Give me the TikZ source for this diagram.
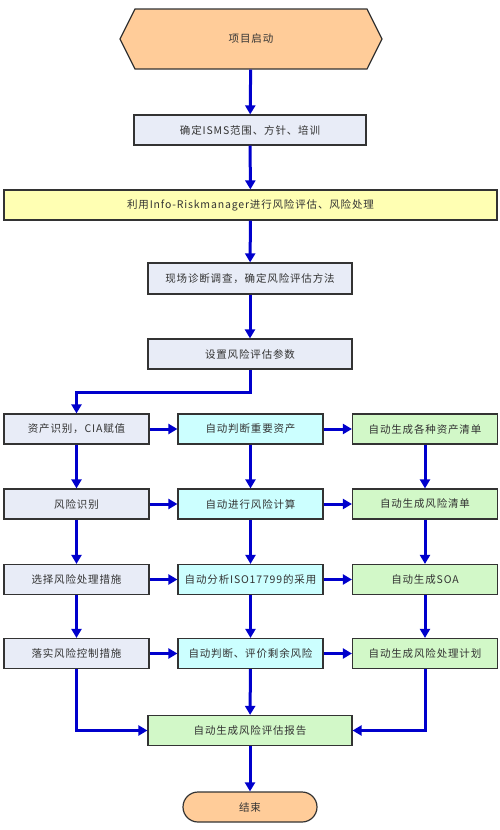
\documentclass[tikz,border=0pt]{standalone}
\usepackage{fontspec}
\setmainfont[LetterSpace=8]{Noto Sans CJK SC}
\usetikzlibrary{arrows.meta}
\usetikzlibrary{shapes.symbols}

\definecolor{orangefill}{HTML}{FFCC99}
\definecolor{greyfill}{HTML}{E8ECF7}
\definecolor{yellowfill}{HTML}{FFFFB3}
\definecolor{cyanfill}{HTML}{CCFFFF}
\definecolor{greenfill}{HTML}{D2F8C8}
\definecolor{flowblue}{HTML}{0000CC}
\definecolor{textgrey}{HTML}{333333}

\tikzset{
box/.style={draw=textgrey,line width=1.2pt,minimum height=30pt,minimum width=145pt,
  inner sep=0pt,font=\fontsize{10.5}{12}\selectfont,text=textgrey},
greybox/.style={box,fill=greyfill},
cyanbox/.style={box,fill=cyanfill},
greenbox/.style={box,fill=greenfill},
flow/.style={draw=flowblue,line width=3pt,-{Triangle[length=9pt,width=10pt]}}
}

\begin{document}
\begin{tikzpicture}[x=1pt,y=-1pt]
\useasboundingbox (0,0) rectangle (500,830);
% top part
\node[box,signal,signal to=west and east,signal pointer angle=127,fill=orangefill,
  minimum width=262pt,minimum height=60pt] (start) at (251,39) {项目启动};
\node[greybox,minimum width=232pt] (scope) at (250,130) {确定ISMS范围、方针、培训};
\node[box,fill=yellowfill,minimum width=493pt] (tool) at (250.5,205) {利用Info-Riskmanager进行风险评估、风险处理};
\node[greybox,minimum width=204pt,minimum height=31pt] (survey) at (250,278.5) {现场诊断调查，确定风险评估方法};
\node[greybox,minimum width=204pt] (param) at (250,354) {设置风险评估参数};
% three columns
\node[greybox] (a1) at (76.5,429) {资产识别，CIA赋值};
\node[cyanbox] (b1) at (250.5,429) {自动判断重要资产};
\node[greenbox] (c1) at (425,429) {自动生成各种资产清单};
\node[greybox] (a2) at (76.5,504) {风险识别};
\node[cyanbox] (b2) at (250.5,504) {自动进行风险计算};
\node[greenbox] (c2) at (425,504) {自动生成风险清单};
\node[greybox] (a3) at (76.5,579.5) {选择风险处理措施};
\node[cyanbox] (b3) at (250.5,579.5) {自动分析ISO17799的采用};
\node[greenbox] (c3) at (425,579.5) {自动生成SOA};
\node[greybox] (a4) at (76.5,653.5) {落实风险控制措施};
\node[cyanbox] (b4) at (250.5,653.5) {自动判断、评价剩余风险};
\node[greenbox] (c4) at (425,653.5) {自动生成风险处理计划};
% bottom
\node[greenbox,minimum width=204pt] (report) at (250,730.5) {自动生成风险评估报告};
\node[box,rounded corners=15pt,fill=orangefill,minimum width=134pt] (stop) at (250,807) {结束};
% arrows
\draw[flow] (start) -- (scope);
\draw[flow] (scope) -- (tool);
\draw[flow] (tool) -- (survey);
\draw[flow] (survey) -- (param);
\draw[flow] (param.south) -- ++(0,23) -| (a1.north);
\foreach \r/\s in {1/2,2/3,3/4}{
  \draw[flow] (a\r) -- (a\s);
  \draw[flow] (b\r) -- (b\s);
  \draw[flow] (c\r) -- (c\s);
}
\foreach \r in {1,2,3,4}{
  \draw[flow] (a\r) -- (b\r);
  \draw[flow] (b\r) -- (c\r);
}
\draw[flow] (a4.south) |- (report.west);
\draw[flow] (b4) -- (report);
\draw[flow] (c4.south) |- (report.east);
\draw[flow] (report) -- (stop);
\end{tikzpicture}
\end{document}
